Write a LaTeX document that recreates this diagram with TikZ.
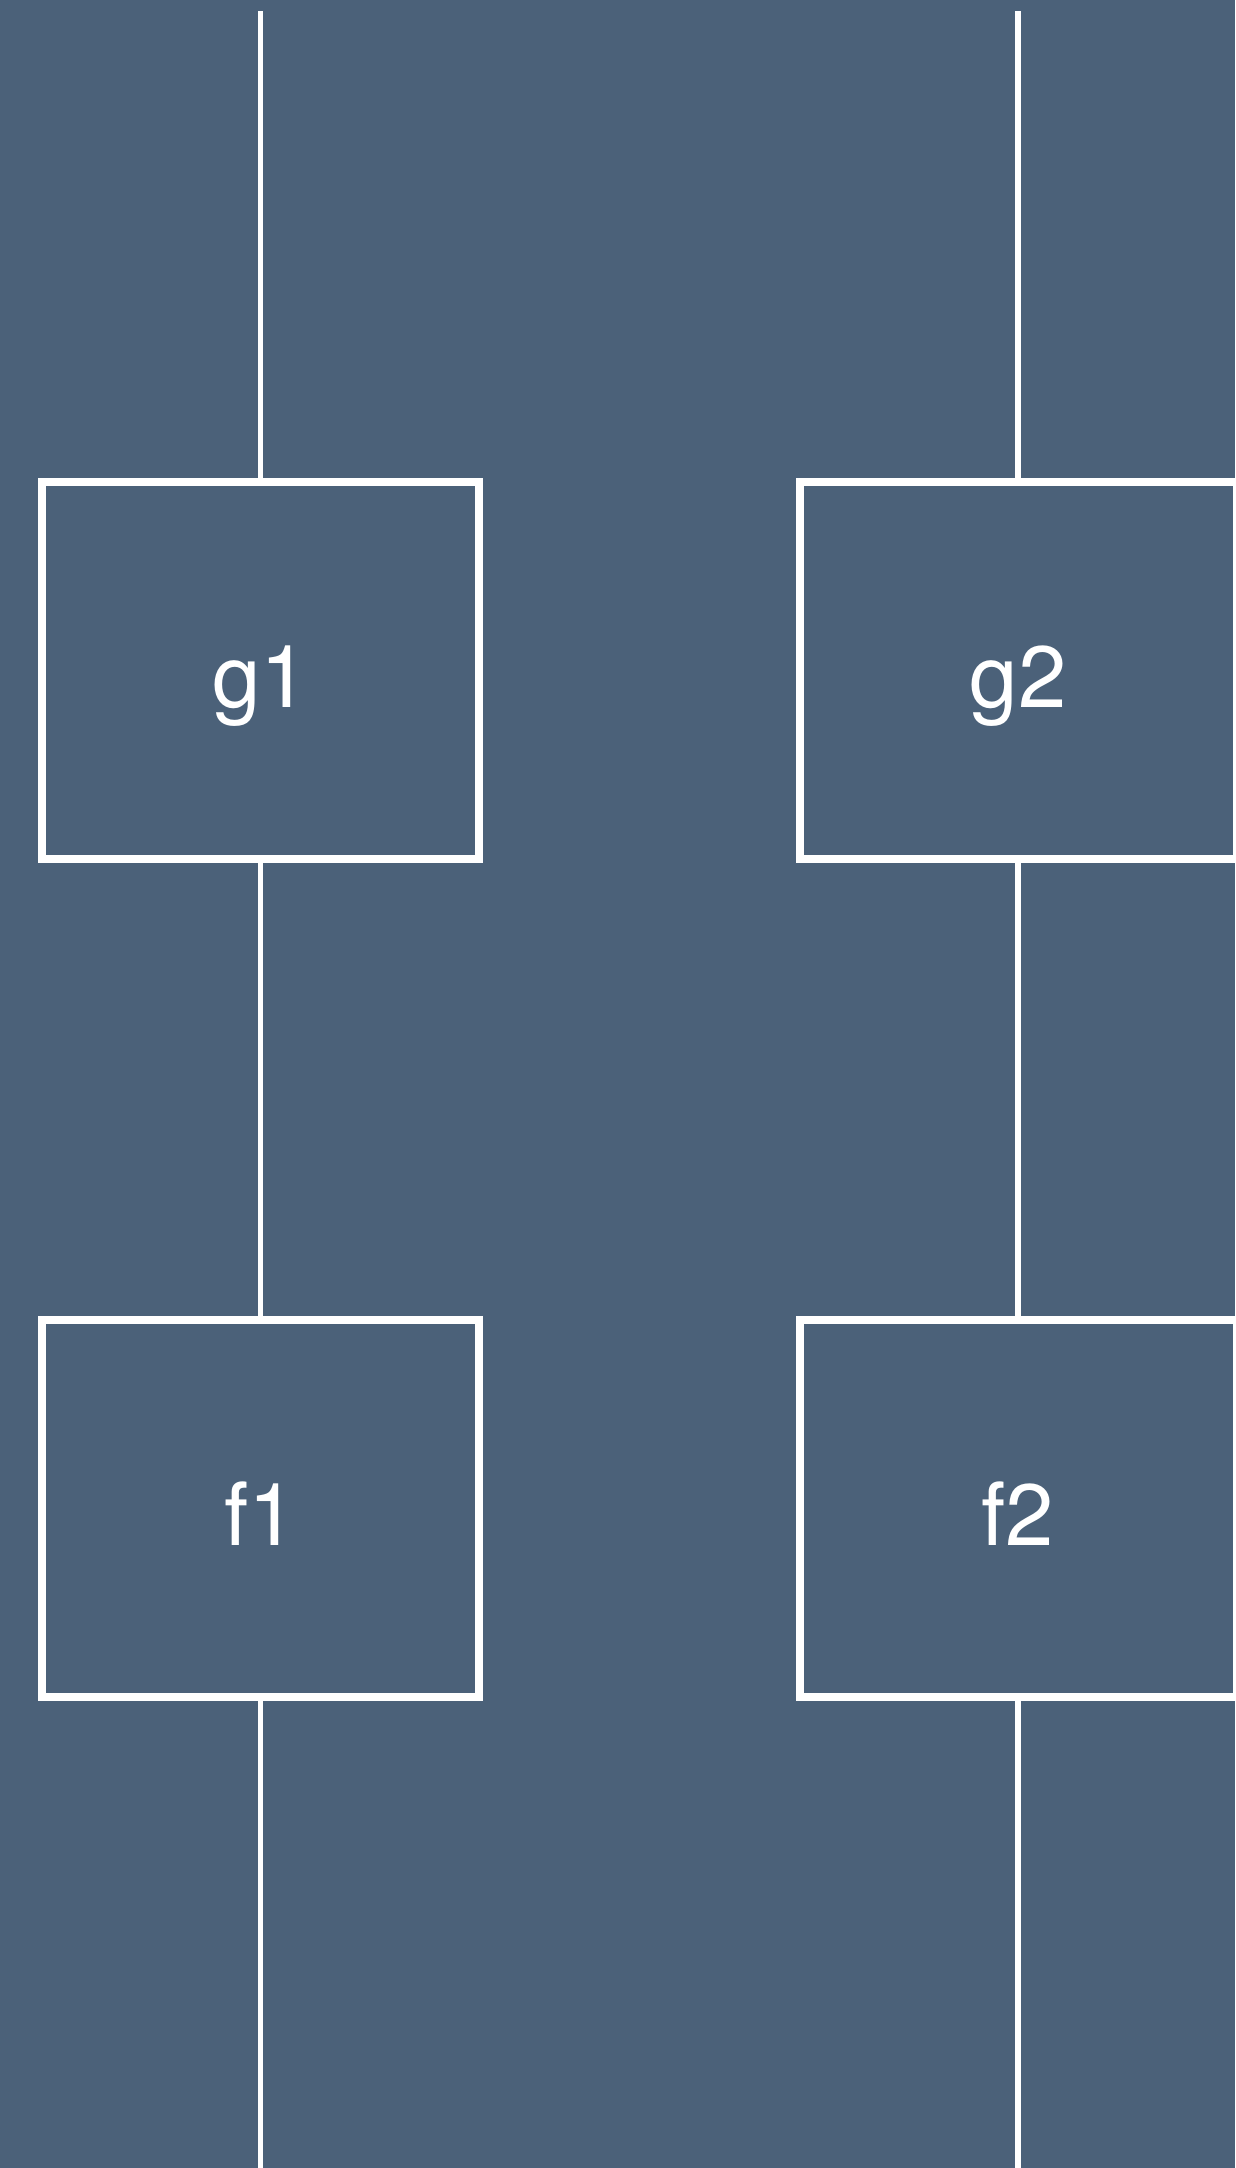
\documentclass[tikz,border=0pt]{standalone}
\usepackage{fontspec}
\setmainfont{TeX Gyre Heros}
\definecolor{bgblue}{HTML}{4B6179}
\begin{document}
\begin{tikzpicture}[x=1pt,y=-1pt,
  fnbox/.style={draw=white, line width=8pt, rectangle, minimum width=437pt, minimum height=377pt,
    inner sep=0pt, text=white, text height=74pt, text depth=0pt,
    font=\fontsize{87}{90}\selectfont},
  wire/.style={draw=white, line width=5.5pt}]
\fill[bgblue] (0,0) rectangle (1235,2168);
\useasboundingbox (0,0) rectangle (1235,2168);
\node[fnbox] (g1) at (260.5,670) {g1};
\node[fnbox] (f1) at (260.5,1508.5) {f1};
\node[fnbox] (g2) at (1018,670) {g2};
\node[fnbox] (f2) at (1018,1508.5) {f2};
\coordinate (t1) at (260.5,11);
\coordinate (b1) at (260.5,2170);
\coordinate (t2) at (1018,11);
\coordinate (b2) at (1018,2170);
\draw[wire] (t1) -- (g1.north);
\draw[wire] (g1.south) -- (f1.north);
\draw[wire] (f1.south) -- (b1);
\draw[wire] (t2) -- (g2.north);
\draw[wire] (g2.south) -- (f2.north);
\draw[wire] (f2.south) -- (b2);
\end{tikzpicture}
\end{document}
